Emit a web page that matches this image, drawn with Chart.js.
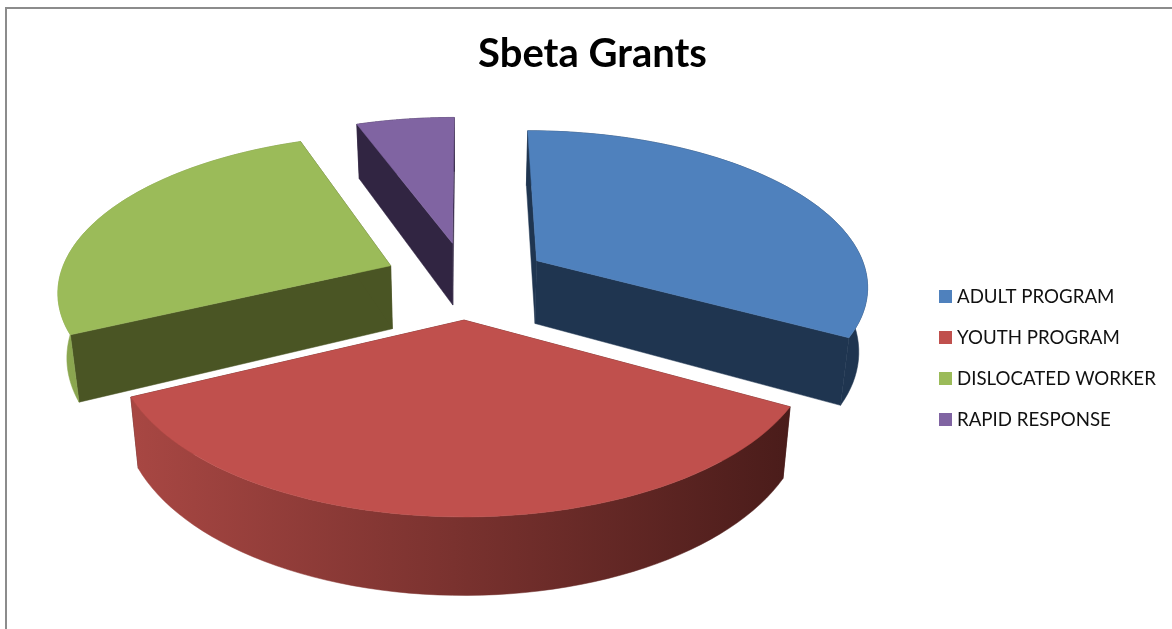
<!DOCTYPE html>
<html>
<head>
<meta charset="utf-8">
<title>Sbeta Grants</title>
<script src="https://cdn.jsdelivr.net/npm/chart.js@4"></script>
<style>
  html, body { margin: 0; padding: 0; background: #fff; overflow: hidden; }
  #box { position: absolute; left: 0; top: 0; width: 1185px; height: 629px; }
</style>
</head>
<body>
<div id="box"><canvas id="chart"></canvas></div>
<script>
const categories = ['ADULT PROGRAM', 'YOUTH PROGRAM', 'DISLOCATED WORKER', 'RAPID RESPONSE'];
const grantShare = [33.0, 34.9, 26.5, 5.6];
const topColors = ['#4F81BD', '#C0504D', '#9BBB59', '#8064A2'];
const wallColors = ['#1F3550', '#4A1C1A', '#4A5524', '#312542'];
const rimStops = [
  ['#1F3550', '#1F3550'],
  ['#A84743', '#4A1C1A'],
  ['#8CA850', '#6F873F'],
  ['#312542', '#312542']
];

// Chart.js has no 3d pie, so the arcs it lays out get projected by hand.
const view = { cx: 466.5, cy: 280, sx: 332, sy: 154.5, k: 0.148, depth: 64, shrink: 0.978 };

function project(u, v, bottom) {
  const w = 1 - view.k * v;
  let x = view.cx + view.sx * u / w;
  let y = view.cy + view.sy * v / w;
  if (bottom) {
    x = view.cx + (x - view.cx) * view.shrink;
    y += view.depth / w;
  }
  return [x, y];
}

function fillPoly(ctx, pts, fill) {
  ctx.beginPath();
  pts.forEach((p, i) => (i ? ctx.lineTo(p[0], p[1]) : ctx.moveTo(p[0], p[1])));
  ctx.closePath();
  ctx.fillStyle = fill;
  ctx.fill();
  ctx.strokeStyle = fill;
  ctx.lineWidth = 0.5;
  ctx.stroke();
}

function drawSlice(ctx, arc, i) {
  const r = arc.outerRadius;
  const e = arc.options.offset / r;
  const mid = (arc.startAngle + arc.endAngle) / 2;
  const ox = Math.cos(mid) * e;
  const oy = Math.sin(mid) * e;
  const steps = 60;
  const top = [];
  const low = [];
  for (let n = 0; n <= steps; n++) {
    const a = arc.startAngle + (arc.endAngle - arc.startAngle) * n / steps;
    const u = ox + Math.cos(a);
    const v = oy + Math.sin(a);
    top.push(project(u, v, false));
    low.push(project(u, v, true));
  }
  const apexTop = project(ox, oy, false);
  const apexLow = project(ox, oy, true);

  // cut faces first, the rim hides them where they face away
  fillPoly(ctx, [apexTop, top[0], low[0], apexLow], wallColors[i]);
  fillPoly(ctx, [apexTop, top[steps], low[steps], apexLow], wallColors[i]);

  const xs = top.map(p => p[0]);
  const grad = ctx.createLinearGradient(Math.min(...xs), 0, Math.max(...xs), 0);
  grad.addColorStop(0, rimStops[i][0]);
  grad.addColorStop(1, rimStops[i][1]);
  fillPoly(ctx, top.concat(low.slice().reverse()), grad);

  fillPoly(ctx, [apexTop].concat(top), topColors[i]);
}

const pie3d = {
  id: 'pie3d',
  beforeDraw(chart) {
    const ctx = chart.ctx;
    ctx.save();
    ctx.strokeStyle = '#8C8C8C';
    ctx.lineWidth = 2;
    ctx.beginPath();
    ctx.moveTo(6, 629);
    ctx.lineTo(6, 8);
    ctx.lineTo(1172, 8);
    ctx.stroke();
    ctx.restore();
  },
  beforeDatasetsDraw(chart) {
    const ctx = chart.ctx;
    const arcs = chart.getDatasetMeta(0).data;
    ctx.save();
    // back to front
    [3, 2, 0, 1].forEach(i => drawSlice(ctx, arcs[i], i));
    ctx.restore();
    return false;
  },
  afterDraw(chart) {
    // office style legend: the built-in one keeps a wider gap after the swatch
    const ctx = chart.ctx;
    ctx.save();
    ctx.font = '18.7px Lato';
    ctx.textBaseline = 'middle';
    chart.data.labels.forEach((label, i) => {
      const y = 296 + i * 41;
      ctx.fillStyle = topColors[i];
      ctx.fillRect(939, y - 6, 13, 13);
      ctx.fillStyle = '#111';
      ctx.fillText(label, 957, y + 1);
    });
    ctx.restore();
  }
};

new Chart(document.getElementById('chart'), {
  type: 'pie',
  data: {
    labels: categories,
    datasets: [{
      data: grantShare,
      backgroundColor: topColors,
      borderWidth: 0,
      offset: 50
    }]
  },
  options: {
    responsive: true,
    maintainAspectRatio: false,
    animation: false,
    events: [],
    radius: 200,
    layout: { padding: 0 },
    plugins: {
      legend: { display: false },
      tooltip: { enabled: false },
      title: {
        display: true,
        text: 'Sbeta Grants',
        color: '#000',
        font: { family: 'Lato', size: 40, weight: 'bold' },
        padding: { top: 30, bottom: 20 }
      }
    }
  },
  plugins: [pie3d]
});
</script>
</body>
</html>
